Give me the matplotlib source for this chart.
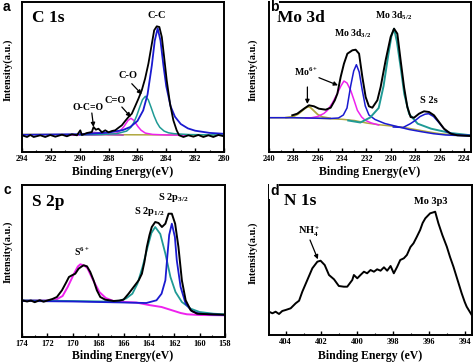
import matplotlib
matplotlib.use("Agg")
import matplotlib.pyplot as plt
from matplotlib.ticker import MultipleLocator

plt.rcParams['font.family'] = ['Liberation Serif', 'DejaVu Serif']
plt.rcParams['font.weight'] = 'bold'
plt.rcParams['mathtext.fontset'] = 'custom'
plt.rcParams['mathtext.rm'] = 'Liberation Serif:bold'
plt.rcParams['mathtext.it'] = 'Liberation Serif:bold'
plt.rcParams['mathtext.bf'] = 'Liberation Serif:bold'

# ---------------- Panel a : C 1s ----------------
a_data_x = [294.0, 293.65, 293.42, 293.19, 292.73, 292.39, 292.04, 291.69, 291.23, 290.89, 290.54, 290.19,
            289.96, 289.85, 289.5, 289.16, 289.04, 288.88, 288.7, 288.46, 288.23, 288.0, 287.77, 287.54,
            287.31, 287.08, 286.85, 286.62, 286.39, 286.16, 285.93, 285.7, 285.47, 285.24, 285.0, 284.84,
            284.66, 284.48, 284.31, 284.15, 283.97, 283.74, 283.51, 283.28, 283.11, 282.81, 282.47, 282.12,
            281.78, 281.43, 281.08, 280.74, 280.39, 280.0]
a_data_y = [16.7, 15.0, 17.0, 15.0, 16.7, 15.0, 17.0, 15.3, 17.3, 15.7, 17.7, 16.7,
            21.7, 17.0, 19.0, 20.0, 25.0, 22.3, 23.3, 19.7, 21.7, 19.7, 21.0, 21.7,
            24.3, 26.7, 31.0, 35.0, 38.3, 45.7, 53.3, 61.7, 73.3, 88.3, 108.3, 121.7,
            125.7, 125.0, 115.0, 95.0, 71.7, 48.3, 31.7, 21.7, 16.7, 15.0, 16.7, 15.3,
            17.0, 15.0, 16.7, 15.0, 17.0, 15.7]
a_cc_x = [294, 290, 288, 287, 286.5, 286, 285.6, 285.3, 285.0, 284.8, 284.6, 284.4, 284.2, 284.0,
          283.7, 283.4, 283.0, 282.5, 282, 281, 280]
a_cc_y = [17.2, 17.8, 19.4, 22.0, 25.0, 31.0, 41.6, 57.5, 86.7, 111.3, 123.7, 111.3, 86.7, 65.6,
          45.7, 35.3, 28.0, 23.6, 21.3, 19.1, 18.2]
a_co_x = [290, 288.5, 287.45, 286.75, 286.45, 286.25, 286.05, 285.85, 285.65, 285.45, 285.25, 285.05,
          284.85, 284.65, 284.45, 284.15, 283.85, 283.45, 282.45, 280]
a_co_y = [17.05, 17.45, 18.3, 20.9, 24.7, 29.4, 36.2, 44.5, 52.3, 55.7, 52.3, 44.5,
          36.2, 29.4, 24.7, 20.9, 19.2, 18.3, 17.45, 16.95]
a_cdo_x = [290.45, 288.95, 287.95, 287.45, 287.15, 286.95, 286.85, 286.65, 286.45, 286.25, 286.05,
           285.95, 285.75, 285.45, 284.95, 283.95, 282.45]
a_cdo_y = [16.8, 17.0, 17.6, 18.9, 21.8, 25.2, 27.3, 31.6, 33.7, 31.6, 27.3, 25.2, 21.8, 18.9, 17.6, 17.0, 16.8]
a_ocdo_x = [291.0, 290.0, 289.6, 289.3, 289.0, 288.7, 288.4, 288.0, 287.0]
a_ocdo_y = [16.9, 17.3, 18.2, 19.2, 19.6, 19.2, 18.2, 17.3, 16.9]
a_bg_x = [294, 290, 286, 282, 280]
a_bg_y = [17.6, 17.4, 17.2, 17.0, 16.9]

# ---------------- Panel b : Mo 3d ----------------
b_data_x = [238.09, 237.68, 237.13, 236.72, 236.31, 235.9, 235.35, 234.94, 234.6, 234.39, 234.12, 233.85,
            233.57, 233.16, 232.89, 232.61, 232.34, 232.07, 231.8, 231.52, 231.11, 230.84, 230.43, 230.02,
            229.74, 229.47, 229.2, 228.92, 228.65, 228.38, 228.1, 227.69, 227.28, 226.87, 226.46, 226.05,
            225.64, 225.09, 224.55, 223.45]
b_data_y = [36.7, 38.3, 43.3, 46.7, 45.7, 43.3, 42.3, 44.3, 51.7, 58.3, 75.0, 88.3,
            98.3, 101.7, 102.3, 98.3, 75.0, 55.0, 45.7, 44.3, 51.7, 65.0, 91.7, 115.0,
            123.3, 118.3, 91.7, 65.0, 45.0, 35.0, 34.3, 38.3, 40.7, 40.0, 36.7, 30.0,
            23.3, 18.3, 16.7, 16.0]
b_bg_x = [240, 238, 236, 235, 234, 233, 232, 231, 230, 229, 228, 227, 226, 225, 223.45]
b_bg_y = [34.3, 34.3, 33.7, 33.3, 32.7, 31.5, 29.0, 27.3, 26.0, 24.7, 22.5, 20.3, 18.3, 17.3, 16.7]
b_mo6_x = [238.6, 238.0, 237.6, 237.3, 237.0, 236.8, 236.6, 236.3, 236.0, 235.6, 235.0]
b_mo6_y = [34.4, 35.5, 38.0, 41.0, 44.0, 45.3, 44.5, 41.0, 37.5, 35.0, 33.8]
b_mag_x = [237.0, 236.5, 236.0, 235.5, 235.2, 234.8, 234.4, 234.1, 233.85, 233.6, 233.3, 233.0,
           232.75, 232.4, 232.1, 231.6, 231.0]
b_mag_y = [34.0, 34.3, 35.5, 38.5, 41.7, 49.0, 58.3, 66.0, 71.0, 69.0, 61.7, 51.0,
           41.7, 35.0, 31.7, 29.0, 27.0]
b_d32_x = [240, 238, 236, 235.0, 234.3, 233.9, 233.6, 233.3, 233.05, 232.83, 232.6, 232.35, 232.1,
           231.8, 231.3, 230.5, 229.5, 228.5, 227.5, 226.5, 225.5, 223.45]
b_d32_y = [34.3, 34.3, 33.8, 33.5, 34.0, 37.0, 44.0, 66.0, 81.0, 87.3, 80.0, 62.0, 46.0,
           37.0, 32.5, 28.5, 25.5, 22.5, 20.3, 18.3, 17.0, 16.0]
b_d52_x = [233.5, 232.5, 231.7, 231.0, 230.6, 230.2, 229.95, 229.74, 229.5, 229.2, 228.9, 228.5,
           227.8, 226.7, 225.1, 223.45]
b_d52_y = [31.5, 29.5, 34.5, 44.0, 66.0, 98.0, 116.0, 123.3, 110.0, 85.0, 58.0, 38.0,
           28.3, 23.3, 19.0, 16.7]
b_s2s_x = [229.8, 229.0, 228.4, 228.0, 227.6, 227.2, 226.9, 226.5, 226.1, 225.8, 225.4, 224.8, 224.0, 223.45]
b_s2s_y = [25.0, 24.5, 28.3, 31.5, 35.5, 37.8, 38.3, 35.5, 30.0, 25.5, 20.0, 17.5, 16.8, 16.7]

# ---------------- Panel c : S 2p ----------------
c_data_x = [174, 173.6, 173.3, 173.0, 172.6, 172.3, 172.0, 171.6, 171.25, 170.85, 170.5, 170.3, 170.06,
            169.8, 169.54, 169.3, 169.14, 168.88, 168.62, 168.36, 168.1, 167.83, 167.44, 166.78, 166.3,
            166.0, 165.6, 165.2, 164.8, 164.55, 164.35, 164.16, 163.95, 163.77, 163.5, 163.24, 162.97,
            162.7, 162.45, 162.19, 161.93, 161.67, 161.4, 161.1, 160.7, 160.2, 159.2, 158]
c_data_y = [36.7, 35.5, 36.5, 34.8, 36.8, 35.3, 36.5, 38.0, 40.0, 46.7, 55.0, 60.0, 61.7,
            63.3, 68.3, 70.5, 71.7, 70.7, 65.0, 56.7, 46.7, 40.0, 37.3, 36.0, 36.5,
            37.3, 43.3, 50.0, 56.7, 63.3, 75.0, 90.0, 102.0, 110.0, 115.0, 114.0, 110.0,
            113.3, 123.3, 123.3, 113.3, 90.0, 56.7, 36.7, 26.7, 23.3, 22.7, 22.3]
c_s6_x = [174, 172, 171.3, 170.8, 170.4, 169.9, 169.6, 169.4, 169.1, 168.85, 168.4, 167.9, 167.4,
          166.8, 166, 165, 164, 163, 162, 161.5, 161, 160, 158]
c_s6_y = [36.7, 36.5, 37.5, 41.0, 50.0, 63.3, 70.5, 72.7, 71.5, 69.0, 57.0, 45.0, 39.0,
          36.0, 35.0, 34.5, 32.0, 30.0, 26.0, 24.0, 22.7, 22.0, 21.7]
c_p12_x = [174, 170, 167.5, 166.5, 165.8, 165.3, 164.9, 164.5, 164.1, 163.8, 163.5, 163.1, 162.7,
           162.3, 161.9, 161.4, 160.7, 160.0, 158.9, 158]
c_p12_y = [36.7, 36.0, 35.5, 35.5, 38.5, 43.3, 53.3, 70.0, 90.0, 104.0, 110.0, 103.0, 83.3,
           60.0, 45.0, 35.0, 28.3, 25.0, 23.3, 22.7]
c_p32_x = [174, 170, 166, 164.2, 163.4, 163.0, 162.7, 162.55, 162.4, 162.19, 161.95, 161.8, 161.5,
           161.1, 160.6, 160.0, 159, 158]
c_p32_y = [36.0, 35.5, 34.5, 34.0, 36.7, 43.3, 56.7, 80.0, 102.0, 113.3, 100.0, 76.7, 50.0,
           33.3, 25.7, 23.3, 22.5, 22.0]

# ---------------- Panel d : N 1s ----------------
d_data_x = [404.93, 404.74, 404.56, 404.37, 404.19, 404.0, 403.72, 403.44, 403.25, 403.07, 402.79,
            402.51, 402.23, 402.05, 401.82, 401.58, 401.3, 401.03, 400.75, 400.56, 400.28, 400.19,
            400.0, 399.82, 399.63, 399.45, 399.26, 399.07, 398.89, 398.7, 398.51, 398.33, 398.14,
            397.96, 397.77, 397.6, 397.4, 397.23, 397.03, 396.86, 396.68, 396.49, 396.35, 396.2,
            396.05, 395.93, 395.78, 395.65, 395.47, 395.25, 395.0, 394.82, 394.63, 394.4, 394.17,
            394.0, 393.89, 393.61]
d_data_y = [23.3, 21.7, 23.3, 21.0, 24.0, 25.0, 26.7, 31.7, 34.3, 43.3, 55.0,
            66.7, 73.3, 74.3, 70.0, 60.0, 55.7, 49.0, 48.3, 48.3, 55.0, 60.0,
            56.7, 60.0, 63.3, 61.7, 65.0, 63.3, 65.7, 64.3, 67.7, 64.3, 69.0,
            61.7, 68.3, 75.0, 76.7, 80.0, 88.0, 91.7, 98.0, 105.0, 112.0, 116.7,
            119.5, 121.7, 122.5, 123.3, 111.7, 100.0, 88.3, 78.0, 68.3, 55.0, 41.7,
            33.0, 28.3, 20.0]

BLACK = '#000000'
BLUE = '#1a1ad0'
TEAL = '#1f9a95'
MAG = '#ee22ee'
OLIVE = '#b0a840'

W, H = 474, 364
fig = plt.figure(figsize=(W / 100, H / 100), dpi=100)


def px_axes(l, t, r, b):
    return fig.add_axes([l / W, 1 - b / H, (r - l) / W, (b - t) / H])


def style(ax, xlim, ylim, major=2):
    ax.set_xlim(*xlim)
    ax.set_ylim(*ylim)
    ax.set_yticks([])
    ax.xaxis.set_major_locator(MultipleLocator(major))
    ax.xaxis.set_minor_locator(MultipleLocator(1))
    ax.tick_params(axis='x', which='major', direction='in', length=3, width=1,
                   labelsize=6, pad=2)
    ax.tick_params(axis='x', which='minor', direction='in', length=1.8, width=0.8)
    for lab in ax.get_xticklabels():
        lab.set_fontweight('bold')
    for s in ax.spines.values():
        s.set_linewidth(1.4)


def arrow(ax, xy, xytext):
    ax.annotate('', xy=xy, xytext=xytext,
                arrowprops=dict(arrowstyle='-|>', color='k', lw=0.9, mutation_scale=6,
                                shrinkA=0, shrinkB=0))


lw = 1.1
# Panel a
axa = px_axes(22, 2, 224, 152)
axa.plot(a_bg_x, a_bg_y, color=OLIVE, lw=lw)
axa.plot(a_ocdo_x, a_ocdo_y, color='#b040c0', lw=lw)
axa.plot(a_cdo_x, a_cdo_y, color=MAG, lw=lw)
axa.plot(a_co_x, a_co_y, color=TEAL, lw=lw)
axa.plot(a_cc_x, a_cc_y, color=BLUE, lw=lw + 0.2)
axa.plot(a_data_x, a_data_y, color=BLACK, lw=lw + 0.2)
style(axa, (294, 280), (0, 150))
axa.text(0.05, 0.893, 'C 1s', transform=axa.transAxes, fontsize=12.5, fontweight='bold', va='center')
axa.text(284.66, 136.7, 'C-C', fontsize=7.5, fontweight='bold', ha='center', va='center')
axa.text(286.62, 76.7, 'C-O', fontsize=7.5, fontweight='bold', ha='center', va='center')
axa.text(287.54, 51.7, 'C=O', fontsize=7.5, fontweight='bold', ha='center', va='center')
axa.text(289.39, 44.3, 'O-C=O', fontsize=7, fontweight='bold', ha='center', va='center')
arrow(axa, (285.7, 57.7), (286.39, 68.3))
arrow(axa, (286.46, 35.0), (287.08, 45.0))
arrow(axa, (289.04, 25.0), (289.16, 39.0))

# Panel b
axb = px_axes(269, 2, 470.7, 152)
axb.plot(b_bg_x, b_bg_y, color=OLIVE, lw=lw)
axb.plot(b_mo6_x, b_mo6_y, color=OLIVE, lw=lw + 0.2)
axb.plot(b_mag_x, b_mag_y, color=MAG, lw=lw)
axb.plot(b_d32_x, b_d32_y, color=BLUE, lw=lw)
axb.plot(b_d52_x, b_d52_y, color=TEAL, lw=lw + 0.3)
axb.plot(b_s2s_x, b_s2s_y, color=BLUE, lw=lw)
axb.plot(b_data_x, b_data_y, color=BLACK, lw=lw + 0.3)
style(axb, (240, 223.45), (0, 150))
axb.text(0.04, 0.893, 'Mo 3d', transform=axb.transAxes, fontsize=12.5, fontweight='bold', va='center')
axb.text(233.1, 118.3, r'Mo 3d$_{3/2}$', fontsize=7, fontweight='bold', ha='center', va='center')
axb.text(229.8, 136.7, r'Mo 3d$_{5/2}$', fontsize=7, fontweight='bold', ha='center', va='center')
axb.text(236.99, 80.0, r'Mo$^{6+}$', fontsize=7, fontweight='bold', ha='center', va='center')
axb.text(226.87, 51.7, 'S 2s', fontsize=7.5, fontweight='bold', ha='center', va='center')
arrow(axb, (236.85, 48.0), (236.85, 65.0))
arrow(axb, (234.34, 66.7), (235.9, 74.3))

# Panel c
axc = px_axes(22, 185, 225, 337)
axc.plot(c_s6_x, c_s6_y, color=MAG, lw=lw + 0.3)
axc.plot(c_p12_x, c_p12_y, color=TEAL, lw=lw + 0.2)
axc.plot(c_p32_x, c_p32_y, color=BLUE, lw=lw + 0.2)
axc.plot(c_data_x, c_data_y, color=BLACK, lw=lw + 0.3)
style(axc, (174, 158), (0, 152))
axc.text(0.05, 0.888, 'S 2p', transform=axc.transAxes, fontsize=12.5, fontweight='bold', va='center')
axc.text(169.28, 85.0, r'S$^{6+}$', fontsize=7, fontweight='bold', ha='center', va='center')
axc.text(163.95, 125.0, r'S 2p$_{1/2}$', fontsize=7.5, fontweight='bold', ha='center', va='center')
axc.text(162.11, 140.0, r'S 2p$_{3/2}$', fontsize=7.5, fontweight='bold', ha='center', va='center')

# Panel d
axd = px_axes(269, 185, 471.7, 335)
axd.plot(d_data_x, d_data_y, color=BLACK, lw=lw + 0.3)
style(axd, (404.93, 393.61), (0, 150))
axd.text(0.074, 0.893, 'N 1s', transform=axd.transAxes, fontsize=12.5, fontweight='bold', va='center')
axd.text(402.7, 103.3, r'NH$_4^+$', fontsize=7.5, fontweight='bold', ha='center', va='center')
axd.text(395.91, 133.3, 'Mo 3p3', fontsize=7.5, fontweight='bold', ha='center', va='center')
arrow(axd, (402.2, 75.7), (402.64, 95.0))

# Axis labels (figure pixel positions)
def ftext(x, y, s, **kw):
    fig.text(x / W, 1 - y / H, s, **kw)

ftext(123, 171.5, 'Binding Energy(eV)', fontsize=8.5, fontweight='bold', ha='center', va='center')
ftext(370, 171.5, 'Binding Energy(eV)', fontsize=8.5, fontweight='bold', ha='center', va='center')
ftext(123, 356.5, 'Binding Energy(eV)', fontsize=8.5, fontweight='bold', ha='center', va='center')
ftext(370, 355.5, 'Binding Energy (eV)', fontsize=8.5, fontweight='bold', ha='center', va='center')
for (x, y) in [(7.5, 70), (253, 70), (7.5, 252), (253, 253)]:
    ftext(x, y, 'Intensity(a.u.)', fontsize=7.5, fontweight='bold', rotation=90, ha='center', va='center')

# Panel letters
letter_kw = dict(fontsize=10, fontweight='bold', family=['Liberation Sans', 'DejaVu Sans'], ha='left')
ftext(3, 0.3, 'a', va='top', **letter_kw)
ftext(270, 0.3, 'b', va='top', bbox=dict(facecolor='white', edgecolor='none', pad=0.3), **letter_kw)
ftext(3, 194, 'c', va='baseline', **letter_kw)
ftext(270, 195, 'd', va='baseline', bbox=dict(facecolor='white', edgecolor='none', pad=0.5), **letter_kw)

fig.savefig('out.png', dpi=100)
